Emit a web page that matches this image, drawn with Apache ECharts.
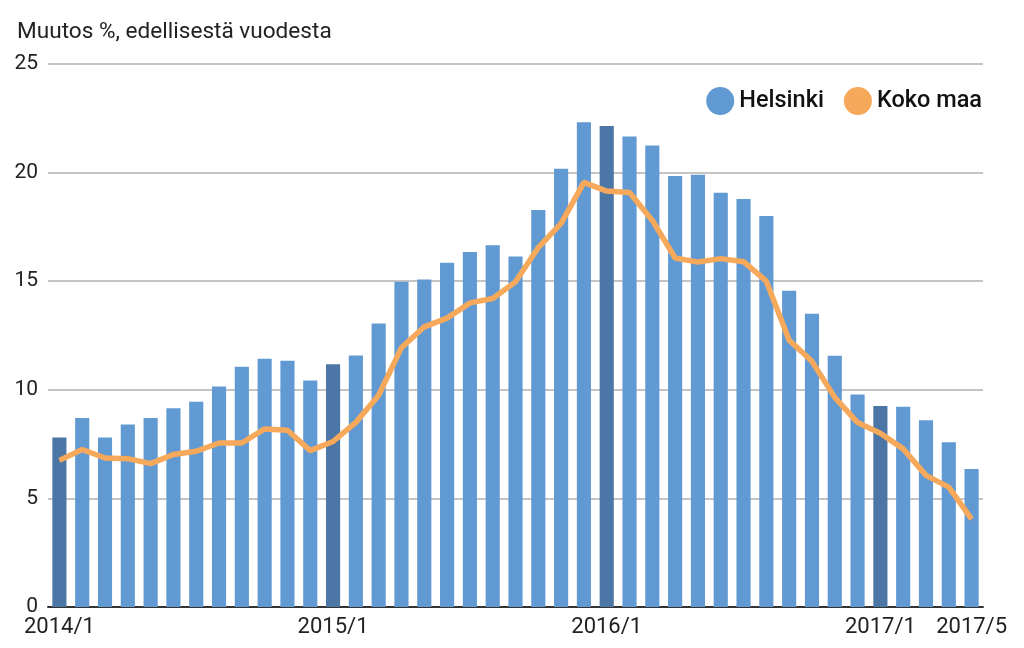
<!DOCTYPE html>
<html>
<head>
<meta charset="utf-8">
<script src="https://cdn.jsdelivr.net/npm/echarts@6/dist/echarts.min.js"></script>
<style>html,body{margin:0;padding:0;background:#fff}#c{width:1024px;height:648px}</style>
</head>
<body>
<div id="c"></div>
<script>
var months = ["2014/1","2014/2","2014/3","2014/4","2014/5","2014/6","2014/7","2014/8","2014/9","2014/10","2014/11","2014/12",
"2015/1","2015/2","2015/3","2015/4","2015/5","2015/6","2015/7","2015/8","2015/9","2015/10","2015/11","2015/12",
"2016/1","2016/2","2016/3","2016/4","2016/5","2016/6","2016/7","2016/8","2016/9","2016/10","2016/11","2016/12",
"2017/1","2017/2","2017/3","2017/4","2017/5"];
var helsinki = [7.8,8.7,7.8,8.4,8.7,9.15,9.45,10.15,11.06,11.43,11.34,10.43,
11.18,11.58,13.05,14.97,15.08,15.85,16.35,16.66,16.14,18.28,20.18,22.32,
22.14,21.66,21.25,19.84,19.9,19.07,18.78,18.0,14.56,13.5,11.57,9.78,
9.25,9.22,8.6,7.59,6.35];
var kokoMaa = [6.75,7.25,6.86,6.83,6.6,7.02,7.17,7.55,7.55,8.2,8.14,7.2,
7.62,8.5,9.75,11.94,12.9,13.3,14.0,14.2,14.97,16.55,17.66,19.55,
19.15,19.08,17.8,16.07,15.88,16.04,15.9,15.0,12.28,11.31,9.65,8.49,
8.0,7.28,6.06,5.52,4.05];
var shownLabels = ["2014/1","2015/1","2016/1","2017/1","2017/5"];
var yTicks = [0,5,10,15,20,25];

var lightBlue = '#6199d3', darkBlue = '#4b76a5', orange = '#f6a95b';
var barData = helsinki.map(function(v,i){
  var jan = /\/1$/.test(months[i]);
  return jan ? {value:v, itemStyle:{color:darkBlue}} : v;
});

var chart = echarts.init(document.getElementById('c'));
chart.setOption({
  backgroundColor:'#fff',
  animation:false,
  textStyle:{fontFamily:'Roboto'},
  title:{text:'Muutos %, edellisestä vuodesta', left:12, top:16,
    textStyle:{fontSize:22.6, fontWeight:'normal', color:'#222', fontFamily:'Roboto'}},
  legend:{right:37, top:82, icon:'circle', itemWidth:28, itemHeight:28, itemGap:20,
    textStyle:{fontSize:23.5, fontWeight:500, color:'#111', fontFamily:'Roboto'},
    data:['Helsinki','Koko maa']},
  grid:{left:48, right:41, top:64, bottom:41},
  xAxis:{type:'category', data:months, boundaryGap:true,
    axisLine:{lineStyle:{color:'#333', width:2}},
    axisTick:{show:false},
    axisLabel:{fontSize:22, color:'#222', margin:9, fontFamily:'Roboto',
      interval:function(i,v){return shownLabels.indexOf(v)>=0;}}},
  yAxis:{type:'value', min:yTicks[0], max:yTicks[yTicks.length-1], interval:5,
    axisLine:{show:false}, axisTick:{show:false},
    axisLabel:{fontSize:21, color:'#222', margin:10, fontFamily:'Roboto'},
    splitLine:{lineStyle:{color:'#c4c4c4', width:2}}},
  series:[
    {name:'Helsinki', type:'bar', data:barData, barCategoryGap:'38%',
      itemStyle:{color:lightBlue}},
    {name:'Koko maa', type:'line', data:kokoMaa, showSymbol:false, symbol:'none',
      lineStyle:{color:orange, width:5.5}, itemStyle:{color:orange}}
  ]
});
</script>
</body>
</html>
